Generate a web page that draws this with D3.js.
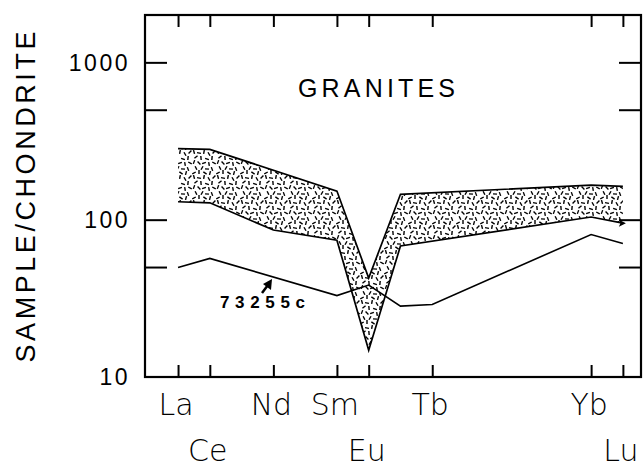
<!DOCTYPE html>
<html>
<head>
<meta charset="utf-8">
<script src="https://cdn.jsdelivr.net/npm/d3@7"></script>
<style>
  body { margin: 0; background: #fff; }
  svg { display: block; }
</style>
</head>
<body>
<script>
"use strict"

// REE atomic numbers, used for x positions
var atomic = {La: 57, Ce: 58, Nd: 60, Sm: 62, Eu: 63, Gd: 64, Tb: 65, Yb: 70, Lu: 71};

// labelled ticks (row 0 = upper line of labels, row 1 = lower)
var tickElements = ["La", "Ce", "Nd", "Sm", "Eu", "Tb", "Yb", "Lu"];
var tickRows     = [0, 1, 0, 0, 1, 0, 0, 1];

// granite field, upper and lower limits
var upperElements = ["La", "Ce", "Sm", "Eu", "Gd", "Yb", "Lu"];
var upperValues   = [283, 280, 152, 42.5, 145, 166, 163];
var lowerElements = ["La", "Ce", "Nd", "Sm", "Eu", "Gd", "Yb", "Lu"];
var lowerValues   = [130, 128, 86, 74, 14.8, 68, 104, 95];

// sample 73255c
var sampleElements = ["La", "Ce", "Sm", "Eu", "Gd", "Tb", "Yb", "Lu"];
var sampleValues   = [49.6, 56.7, 32.9, 38.4, 28.2, 28.9, 80.5, 70.6];

var yLabelValues = [10, 100, 1000];
var yTickValues = [50, 100, 500, 1000];

var width = 643, height = 468;
var plotLeft = 145, plotRight = 641, plotTop = 15, plotBottom = 377;

var svg = d3.select("body").append("svg")
    .attr("width", width)
    .attr("height", height);

var x = d3.scaleLinear().domain([55.96, 71.57]).range([plotLeft, plotRight]);
var y = d3.scaleLog().domain([10, 2000]).range([plotBottom, plotTop]);

// dash texture for the field: [cx, cy, angle]
var dashes = [
  [2, 2, 75], [7, 3, 10], [12, 2, 100], [17, 4, 60], [22, 2, 135],
  [4, 7, 140], [9, 8, 85], [15, 9, 20], [20, 8, 95], [2, 12, 110],
  [7, 13, 45], [12, 13, 160], [17, 14, 80], [22, 13, 30], [4, 18, 65],
  [10, 18, 120], [15, 19, 5], [20, 19, 70], [2, 23, 150], [7, 22, 90],
  [13, 23, 35], [18, 23, 105]
];
var pat = svg.append("defs").append("pattern")
    .attr("id", "dots")
    .attr("patternUnits", "userSpaceOnUse")
    .attr("width", 24)
    .attr("height", 25);
pat.selectAll("line").data(dashes).enter().append("line")
    .attr("x1", function(d) { return d[0] - 2 * Math.cos(d[2] * Math.PI / 180); })
    .attr("y1", function(d) { return d[1] - 2 * Math.sin(d[2] * Math.PI / 180); })
    .attr("x2", function(d) { return d[0] + 2 * Math.cos(d[2] * Math.PI / 180); })
    .attr("y2", function(d) { return d[1] + 2 * Math.sin(d[2] * Math.PI / 180); })
    .attr("stroke", "#000")
    .attr("stroke-width", 1.4);

var upperPts = upperElements.map(function(e, i) { return [x(atomic[e]), y(upperValues[i])]; });
var lowerPts = lowerElements.map(function(e, i) { return [x(atomic[e]), y(lowerValues[i])]; });

var line = d3.line();

svg.append("path")
    .attr("d", line(upperPts.concat(lowerPts.slice().reverse())) + "Z")
    .attr("fill", "url(#dots)")
    .attr("stroke", "none");

svg.append("path")
    .attr("d", line(upperPts))
    .attr("fill", "none")
    .attr("stroke", "#000")
    .attr("stroke-width", 1.7);

svg.append("path")
    .attr("d", line(lowerPts))
    .attr("fill", "none")
    .attr("stroke", "#000")
    .attr("stroke-width", 1.7);

var samplePts = sampleElements.map(function(e, i) { return [x(atomic[e]), y(sampleValues[i])]; });
svg.append("path")
    .attr("d", line(samplePts))
    .attr("fill", "none")
    .attr("stroke", "#000")
    .attr("stroke-width", 1.6);

// arrowhead at the right end of the lower limit
var lu = lowerPts[lowerPts.length - 1];
svg.append("path")
    .attr("d", "M" + (lu[0] + 3) + "," + lu[1] + "l-7,-3.5l1.5,3.5l-1.5,3.5Z")
    .attr("fill", "#000");

// frame
svg.append("rect")
    .attr("x", plotLeft).attr("y", plotTop)
    .attr("width", plotRight - plotLeft).attr("height", plotBottom - plotTop)
    .attr("fill", "none")
    .attr("stroke", "#000")
    .attr("stroke-width", 2.2);

var tickZ = tickElements.map(function(e) { return atomic[e]; });

function styleAxis(g) {
  g.select(".domain").remove();
  g.selectAll(".tick line").attr("stroke-width", 2);
}

svg.append("g")
    .attr("transform", "translate(0," + plotBottom + ")")
    .call(d3.axisBottom(x).tickValues(tickZ).tickSize(-12).tickFormat(""))
    .call(styleAxis);
svg.append("g")
    .attr("transform", "translate(0," + plotTop + ")")
    .call(d3.axisTop(x).tickValues(tickZ).tickSize(-12).tickFormat(""))
    .call(styleAxis);
svg.append("g")
    .attr("transform", "translate(" + plotLeft + ",0)")
    .call(d3.axisLeft(y).tickValues(yTickValues).tickSize(-22).tickFormat(""))
    .call(styleAxis);
svg.append("g")
    .attr("transform", "translate(" + plotRight + ",0)")
    .call(d3.axisRight(y).tickValues(yTickValues).tickSize(-22).tickFormat(""))
    .call(styleAxis);

// y labels
svg.selectAll(".ylab").data(yLabelValues).enter().append("text")
    .attr("class", "ylab")
    .attr("x", 130)
    .attr("y", function(d) { return y(d); })
    .attr("dy", "0.36em")
    .attr("text-anchor", "end")
    .attr("font-family", "Liberation Sans, Arial, sans-serif")
    .attr("font-size", "23px")
    .attr("letter-spacing", "2.5px")
    .text(function(d) { return d; });

svg.append("text")
    .attr("transform", "translate(35,197) rotate(-90)")
    .attr("text-anchor", "middle")
    .attr("font-family", "Liberation Sans, Arial, sans-serif")
    .attr("font-size", "27px")
    .attr("textLength", 331)
    .attr("lengthAdjust", "spacing")
    .text("SAMPLE/CHONDRITE");

// x labels
svg.selectAll(".xlab").data(tickElements).enter().append("text")
    .attr("class", "xlab")
    .attr("x", function(d) { return x(atomic[d]) - 2; })
    .attr("y", function(d, i) { return tickRows[i] ? 461 : 415; })
    .attr("text-anchor", "middle")
    .attr("font-family", "DejaVu Sans, sans-serif")
    .attr("font-weight", 200)
    .attr("font-size", "30px")
    .text(function(d) { return d; });

svg.append("text")
    .attr("x", 298)
    .attr("y", 97)
    .attr("font-family", "Liberation Sans, Arial, sans-serif")
    .attr("font-size", "25px")
    .attr("textLength", 157)
    .attr("lengthAdjust", "spacing")
    .text("GRANITES");

// sample label and pointer
svg.append("text")
    .attr("x", 220)
    .attr("y", 308)
    .attr("font-family", "Liberation Sans, Arial, sans-serif")
    .attr("font-weight", "bold")
    .attr("font-size", "17px")
    .attr("textLength", 85)
    .attr("lengthAdjust", "spacing")
    .text("73255c");

svg.append("line")
    .attr("x1", 262).attr("y1", 293)
    .attr("x2", 268).attr("y2", 285)
    .attr("stroke", "#000")
    .attr("stroke-width", 2.5);
svg.append("path")
    .attr("d", "M272,279L271,290L263,284Z")
    .attr("fill", "#000");
</script>
</body>
</html>
